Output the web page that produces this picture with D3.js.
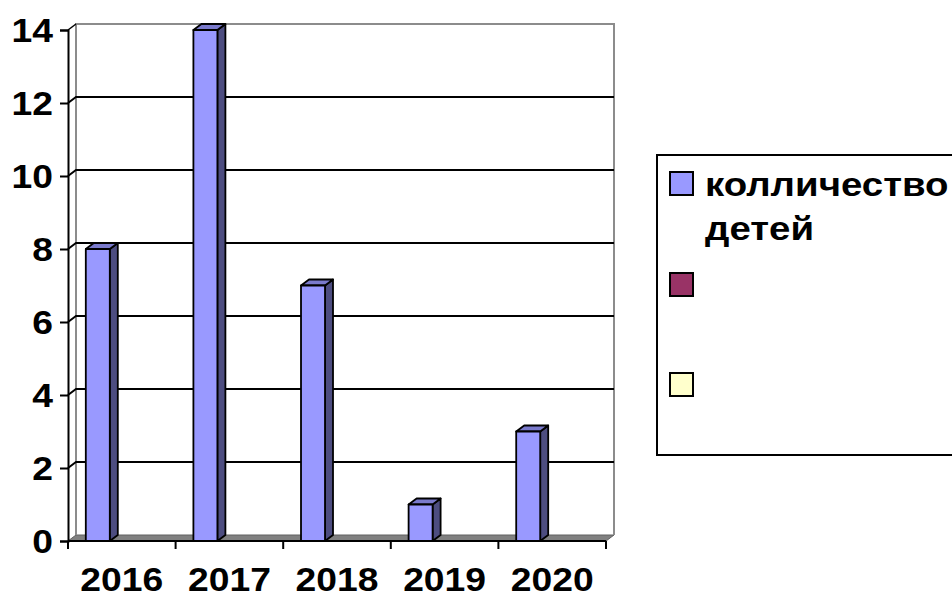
<!DOCTYPE html>
<html><head><meta charset="utf-8">
<script src="https://cdn.jsdelivr.net/npm/d3@7"></script>
<style>body{margin:0;background:#fff}svg{display:block}</style>
</head><body>
<script>
const categories = ["2016","2017","2018","2019","2020"];
const seriesNames = ["колличество детей", "", ""];
const seriesColors = ["#9999FF", "#993366", "#FFFFCC"];
const values = [8, 14, 7, 1, 3];
const yTicks = [0, 2, 4, 6, 8, 10, 12, 14];

const W = 952, H = 597;
const svg = d3.select("body").append("svg").attr("width", W).attr("height", H);
const font = "'Liberation Sans', Arial, sans-serif";
const sx = 1.13; // horizontal stretch of text as in reference

const x0 = 68, x1 = 606, yb = 541, yt = 30;
const dx = 8, dy = -6;
const x = d3.scaleBand().domain(categories).range([x0, x1]);
const xs = d3.scaleBand().domain(["s0","s1","s2"]).range([0, x.bandwidth()]).paddingOuter(0.742).paddingInner(0);
const y = d3.scaleLinear().domain([0, 14]).range([yb, yt]);

// floor
svg.append("polygon")
  .attr("points", [[x0,yb],[x1,yb],[x1+dx,yb+dy],[x0+dx,yb+dy]].map(p=>p.join(",")).join(" "))
  .attr("fill", "#808080").attr("stroke", "#606060").attr("stroke-width", 1);

// back wall edges
svg.append("path")
  .attr("d", `M${x0+dx},${yb+dy}V${y(14)+dy}H${x1+dx}V${yb+dy}`)
  .attr("fill", "none").attr("stroke", "#8c8c8c").attr("stroke-width", 2);

// gridlines
yTicks.filter(t => t > 0 && t < 14).forEach(t => {
  svg.append("path")
    .attr("d", `M${x0},${y(t)}L${x0+dx},${y(t)+dy}H${x1+dx}`)
    .attr("fill", "none").attr("stroke", "#000").attr("stroke-width", 2);
});
svg.append("path")
  .attr("d", `M${x0},${y(14)}L${x0+dx},${y(14)+dy}`)
  .attr("fill", "none").attr("stroke", "#000").attr("stroke-width", 1.5);

// bars
const bw = xs.bandwidth();
categories.forEach((c, i) => {
  const v = values[i];
  const bx = x(c) + xs("s0");
  const by = y(v);
  const g = svg.append("g").attr("stroke", "#000").attr("stroke-width", 1.8).attr("stroke-linejoin", "round");
  g.append("polygon")
    .attr("points", [[bx+bw,by],[bx+bw+dx,by+dy],[bx+bw+dx,yb+dy],[bx+bw,yb]].map(p=>p.join(",")).join(" "))
    .attr("fill", "#4D4D80");
  g.append("polygon")
    .attr("points", [[bx,by],[bx+dx,by+dy],[bx+bw+dx,by+dy],[bx+bw,by]].map(p=>p.join(",")).join(" "))
    .attr("fill", "#7A7ACC");
  g.append("rect").attr("x", bx).attr("y", by).attr("width", bw).attr("height", yb - by)
    .attr("fill", seriesColors[0]);
});

// y axis
const yAxis = svg.append("g").attr("transform", `translate(${x0},0)`)
  .call(d3.axisLeft(y).tickValues(yTicks).tickSize(8).tickPadding(6).tickFormat(d3.format("d")));
yAxis.select(".domain").attr("stroke", "#000").attr("stroke-width", 2);
yAxis.selectAll(".tick line").attr("stroke", "#000").attr("stroke-width", 2);
yAxis.selectAll(".tick text").attr("font-family", font).attr("font-weight", "bold")
  .attr("font-size", 33).attr("fill", "#000").attr("dy", "0.36em")
  .attr("x", -15 / sx).attr("transform", `scale(${sx},1)`);

// x axis
const xAxis = svg.append("g").attr("transform", `translate(0,${yb})`)
  .call(d3.axisBottom(x).tickSize(0).tickPadding(0));
xAxis.select(".domain").remove();
xAxis.append("line").attr("x1", x0).attr("x2", x1).attr("y1", 0).attr("y2", 0)
  .attr("stroke", "#000").attr("stroke-width", 2);
const bounds = categories.map(c => x(c)).concat([x1]);
xAxis.selectAll(".bnd").data(bounds).join("line").attr("class","bnd")
  .attr("x1", d => d).attr("x2", d => d).attr("y1", 0).attr("y2", 8)
  .attr("stroke", "#000").attr("stroke-width", 2);
xAxis.selectAll(".tick text").attr("font-family", font).attr("font-weight", "bold")
  .attr("font-size", 33).attr("fill", "#000").attr("y", 50).attr("dy", 0)
  .attr("transform", `scale(${sx},1)`);

// legend
const lg = svg.append("g");
lg.append("rect").attr("x", 657).attr("y", 155).attr("width", 320).attr("height", 300)
  .attr("fill", "#fff").attr("stroke", "#000").attr("stroke-width", 2);
const ly = [172, 273, 373];
seriesColors.forEach((col, i) => {
  lg.append("rect").attr("x", 670).attr("y", ly[i]).attr("width", 23).attr("height", 23)
    .attr("fill", col).attr("stroke", "#000").attr("stroke-width", 2);
});
const lt = lg.append("text").attr("font-family", font).attr("font-weight", "bold")
  .attr("font-size", 34).attr("fill", "#000")
  .attr("transform", `translate(705,0) scale(${sx},1)`);
const words = seriesNames[0].split(" ");
lt.append("tspan").attr("x", 0).attr("y", 196).text(words[0]);
lt.append("tspan").attr("x", 0).attr("y", 240).text(words[1]);
</script>
</body></html>
